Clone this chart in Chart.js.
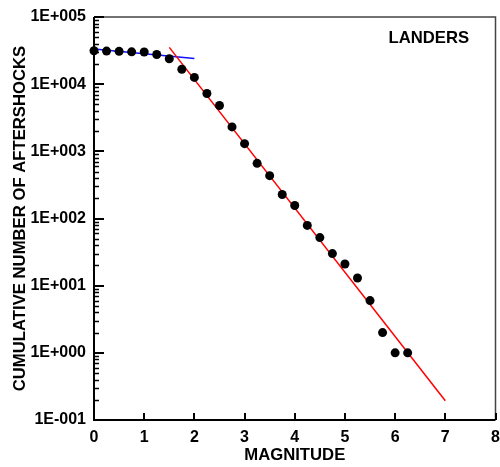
<!DOCTYPE html>
<html>
<head>
<meta charset="utf-8">
<script src="https://cdn.jsdelivr.net/npm/chart.js@4.4.1/dist/chart.umd.min.js"></script>
<style>
  html, body { margin: 0; padding: 0; background: #fff; }
  canvas { display: block; }
</style>
</head>
<body>
<canvas id="chart" width="500" height="467"></canvas>
<script>
// Cumulative aftershock counts by magnitude (Landers sequence)
const magnitudes = [0, 0.25, 0.5, 0.75, 1, 1.25, 1.5, 1.75, 2, 2.25, 2.5, 2.75, 3,
                    3.25, 3.5, 3.75, 4, 4.25, 4.5, 4.75, 5, 5.25, 5.5, 5.75, 6, 6.25];
const cumulativeCounts = [31400, 31100, 30800, 30300, 30100, 27700, 23900, 16700, 12600,
                          7270, 4810, 2310, 1300, 662, 434, 228, 156, 79, 52, 30, 21, 13,
                          6, 2, 1, 1];

// Fitted Gutenberg-Richter line (large magnitudes)
const steepFitMag = [1.5, 7];
const steepFitCount = [35300, 0.194];

// Fitted line over the small magnitudes
const flatFitMag = [0, 2];
const flatFitCount = [33300, 24200];

// Axis ticks
const xTickValues = [0, 1, 2, 3, 4, 5, 6, 7, 8];
const yTickValues = [0.1, 1, 10, 100, 1000, 10000, 100000];
const minorMultipliers = [2, 3, 4, 5, 6, 7, 8, 9];

const FONT = "'Liberation Sans', Arial, Helvetica, sans-serif";
Chart.defaults.font.family = FONT;
Chart.defaults.color = '#000';

const toXY = (xs, ys) => xs.map((x, i) => ({ x: x, y: ys[i] }));

function expLabel(v) {
  const e = Math.round(Math.log10(v));
  return '1E' + (e < 0 ? '-' : '+') + String(Math.abs(e)).padStart(3, '0');
}

// Box frame, inward tick marks and the sequence label
const framePlugin = {
  id: 'frame',
  afterDatasetsDraw(chart) {
    const { ctx, chartArea: a, scales } = chart;
    const x = scales.x, y = scales.y;
    ctx.save();
    ctx.lineCap = 'butt';

    // right and top borders
    ctx.strokeStyle = '#444';
    ctx.lineWidth = 1.5;
    ctx.beginPath();
    ctx.moveTo(a.left, a.top);
    ctx.lineTo(a.right, a.top);
    ctx.lineTo(a.right, a.bottom);
    ctx.stroke();

    ctx.strokeStyle = '#000';
    // minor y ticks
    ctx.lineWidth = 1.5;
    ctx.beginPath();
    for (let i = 0; i < yTickValues.length - 1; i++) {
      minorMultipliers.forEach(k => {
        const py = Math.round(y.getPixelForValue(yTickValues[i] * k)) + 0.5;
        ctx.moveTo(a.left, py);
        ctx.lineTo(a.left + 5, py);
      });
    }
    ctx.stroke();

    // major y ticks
    ctx.lineWidth = 2;
    ctx.beginPath();
    yTickValues.forEach(v => {
      const py = Math.round(y.getPixelForValue(v));
      ctx.moveTo(a.left, py);
      ctx.lineTo(a.left + 10, py);
    });
    ctx.stroke();

    // x ticks
    ctx.beginPath();
    xTickValues.forEach(v => {
      const px = Math.round(x.getPixelForValue(v));
      ctx.moveTo(px, a.bottom);
      ctx.lineTo(px, a.bottom - 7);
    });
    ctx.stroke();

    // left and bottom axes
    ctx.lineWidth = 2;
    ctx.beginPath();
    ctx.moveTo(a.left, a.top);
    ctx.lineTo(a.left, a.bottom);
    ctx.lineTo(a.right, a.bottom);
    ctx.stroke();

    // sequence name
    ctx.fillStyle = '#000';
    ctx.font = 'bold 16.7px ' + FONT;
    ctx.textAlign = 'left';
    ctx.textBaseline = 'middle';
    ctx.fillText('LANDERS', a.right - 107, a.top + 21);
    ctx.restore();
  }
};

new Chart(document.getElementById('chart'), {
  type: 'scatter',
  data: {
    datasets: [
      {
        label: 'Aftershocks',
        data: toXY(magnitudes, cumulativeCounts),
        backgroundColor: '#000',
        borderWidth: 0,
        pointRadius: 4.5,
        pointHoverRadius: 4.5,
        clip: false,
        order: 0
      },
      {
        label: 'Fit (large M)',
        data: toXY(steepFitMag, steepFitCount),
        showLine: true,
        borderColor: '#ff0000',
        borderWidth: 1.5,
        pointRadius: 0,
        order: 1
      },
      {
        label: 'Fit (small M)',
        data: toXY(flatFitMag, flatFitCount),
        showLine: true,
        borderColor: '#1010ff',
        borderWidth: 1.5,
        pointRadius: 0,
        order: 1
      }
    ]
  },
  options: {
    responsive: false,
    animation: false,
    events: [],
    layout: { padding: { top: 17, right: 3, bottom: 0, left: 0 } },
    plugins: {
      legend: { display: false },
      tooltip: { enabled: false }
    },
    scales: {
      x: {
        type: 'linear',
        min: 0,
        max: 8,
        afterBuildTicks: s => { s.ticks = xTickValues.map(v => ({ value: v })); },
        afterFit: s => { s.height = 47; s.paddingLeft = 0; s.paddingRight = 0; },
        grid: { display: false, drawTicks: false },
        border: { display: false },
        ticks: {
          padding: 8,
          maxRotation: 0,
          font: { size: 16, weight: 'bold' },
          color: '#000'
        },
        title: {
          display: true,
          text: 'MAGNITUDE',
          font: { size: 16.7, weight: 'bold' },
          color: '#000',
          padding: { top: 0, bottom: 2 }
        }
      },
      y: {
        type: 'logarithmic',
        min: 0.1,
        max: 100000,
        afterBuildTicks: s => { s.ticks = yTickValues.map(v => ({ value: v })); },
        afterFit: s => { s.width = 94; s.paddingTop = 0; s.paddingBottom = 0; },
        grid: { display: false, drawTicks: false },
        border: { display: false },
        ticks: {
          padding: 8,
          font: { size: 16, weight: 'bold' },
          color: '#000',
          callback: v => expLabel(v)
        },
        title: {
          display: true,
          text: 'CUMULATIVE NUMBER OF AFTERSHOCKS',
          font: { size: 16.7, weight: 'bold' },
          color: '#000',
          padding: { top: 10, bottom: 0 }
        }
      }
    }
  },
  plugins: [framePlugin]
});
</script>
</body>
</html>
